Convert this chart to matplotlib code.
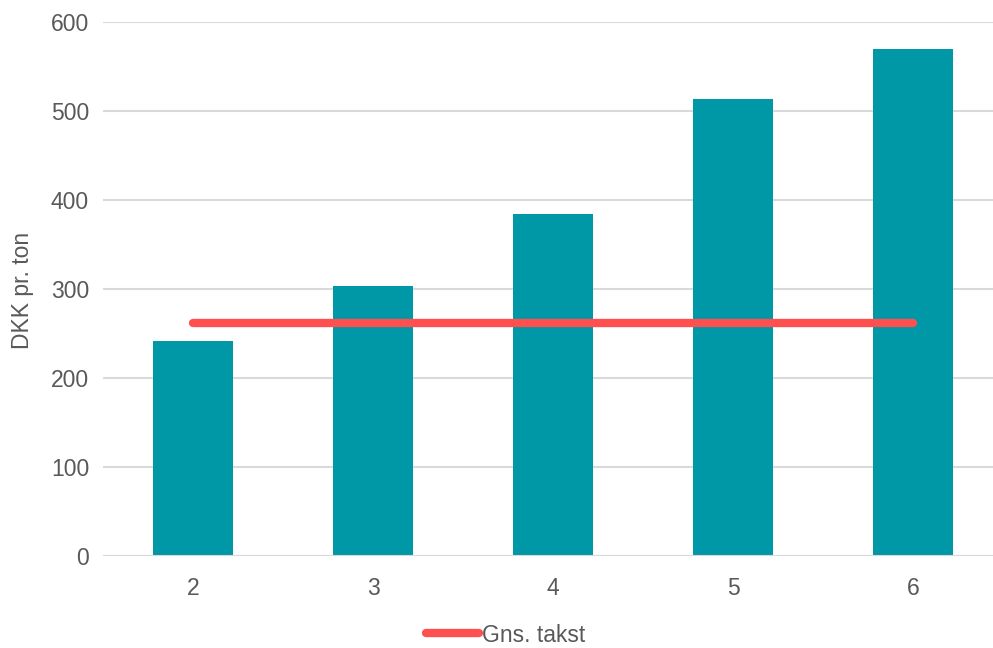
import numpy as np
import matplotlib.pyplot as plt

plt.rcParams['font.family'] = ['Liberation Sans', 'DejaVu Sans']

categories = ['2', '3', '4', '5', '6']
values = [242, 303, 384, 514, 570]
avg_rate = [262, 262, 262, 262, 262]
yticks = [0, 100, 200, 300, 400, 500, 600]

teal = '#0097A7'
red = '#FF5050'
grey = '#595959'

fig = plt.figure(figsize=(9.93, 6.48), dpi=100)
ax = fig.add_axes([103/993, 92/648, 890/993, 534/648])

x = np.arange(len(categories))
ax.bar(x, values, width=0.444, color=teal, zorder=2)
ax.plot(x, avg_rate, color=red, lw=6, solid_capstyle='round', zorder=3, label='Gns. takst')
ax.axhline(0, color='#D9D9D9', lw=1.5, zorder=4)

ax.set_xlim(-0.5, 4.444)
ax.set_ylim(0, 600)
ax.set_yticks(yticks)
ax.set_xticks(x)
ax.set_xticklabels(categories)
ax.grid(axis='y', color='#D9D9D9', lw=1.5, zorder=0)
ax.set_axisbelow(True)
for s in ax.spines.values():
    s.set_visible(False)
ax.tick_params(length=0, labelsize=16.5, colors=grey, pad=15)
ax.tick_params(axis='y', pad=10)
for lab in ax.get_yticklabels():
    lab.set_clip_on(False)

fig.text(22/993, 1 - 290/648, 'DKK pr. ton', rotation=90, va='center', ha='center',
         fontsize=16.5, color=grey)

fig.legend(loc='center', bbox_to_anchor=(506/993, 1 - 635/648), frameon=False,
           fontsize=16.5, labelcolor=grey, handlelength=2.3, handletextpad=0.15)

fig.savefig('out.png', dpi=100)
